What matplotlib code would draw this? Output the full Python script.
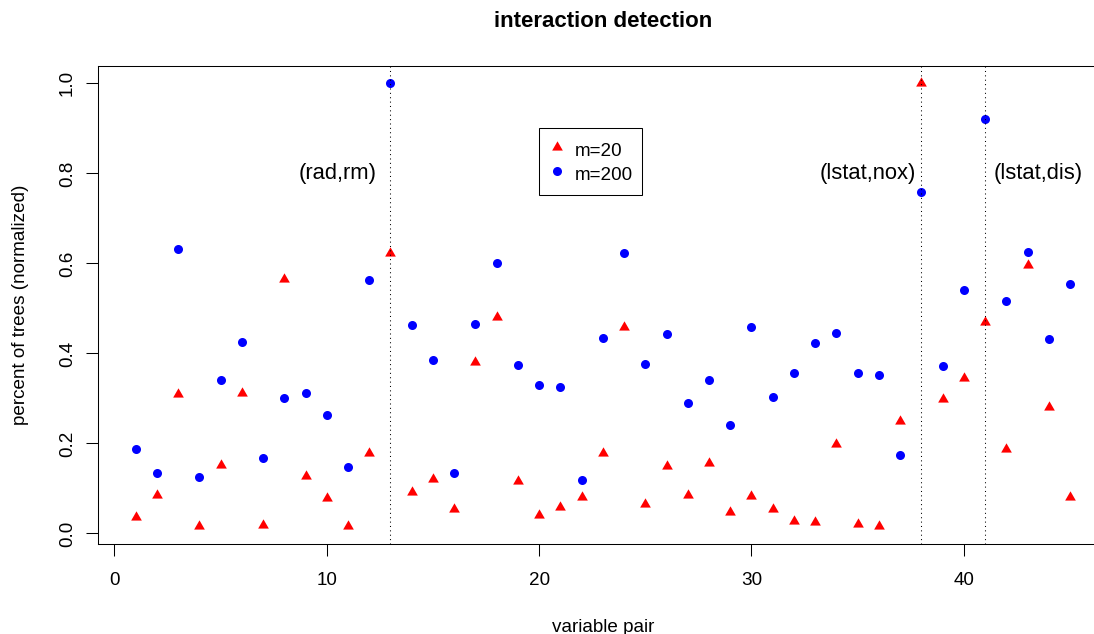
import matplotlib
matplotlib.use("Agg")
import matplotlib.pyplot as plt
from matplotlib.path import Path
import numpy as np

plt.rcParams['font.family'] = ['Liberation Sans', 'DejaVu Sans']

# ---- data ----
pair_index = list(range(1, 46))
m20 = [0.037, 0.086, 0.310, 0.016, 0.152, 0.313, 0.018, 0.566, 0.128, 0.078,
       0.016, 0.178, 0.624, 0.092, 0.120, 0.055, 0.382, 0.482, 0.117, 0.041,
       0.059, 0.080, 0.178, 0.459, 0.065, 0.149, 0.085, 0.157, 0.048, 0.083,
       0.055, 0.028, 0.025, 0.199, 0.021, 0.016, 0.250, 1.000, 0.299, 0.346,
       0.470, 0.187, 0.597, 0.282, 0.080]
m200 = [0.187, 0.134, 0.632, 0.125, 0.342, 0.426, 0.167, 0.302, 0.313, 0.264,
        0.148, 0.564, 1.000, 0.464, 0.386, 0.134, 0.466, 0.601, 0.375, 0.331,
        0.326, 0.118, 0.435, 0.623, 0.377, 0.444, 0.290, 0.342, 0.240, 0.459,
        0.304, 0.357, 0.424, 0.446, 0.357, 0.353, 0.174, 0.759, 0.373, 0.541,
        0.922, 0.517, 0.626, 0.433, 0.555]
series_labels = ["m=20", "m=200"]
highlight_pairs = [13, 38, 41]
annot_x = [10.5, 35.5, 43.5]
annot_y = [0.8, 0.8, 0.8]
annot_text = ["(rad,rm)", "(lstat,nox)", "(lstat,dis)"]
x_ticks = [0, 10, 20, 30, 40]
y_ticks = [0.0, 0.2, 0.4, 0.6, 0.8, 1.0]
y_ticklabels = ["0.0", "0.2", "0.4", "0.6", "0.8", "1.0"]

W, H = 1094, 634
fig = plt.figure(figsize=(W / 100, H / 100), dpi=100)
ax = fig.add_axes([98.3 / W, 90 / H, 1009.1 / W, 478.3 / H])

# R-like triangle (pch 17): point is the centroid
tri = Path([(0, 1), (-0.866, -0.5), (0.866, -0.5), (0, 1)],
           [Path.MOVETO, Path.LINETO, Path.LINETO, Path.CLOSEPOLY])

l1, = ax.plot(pair_index, m20, linestyle='none', marker=tri, markersize=8.9,
              color='#ff0000', markeredgewidth=0, label=series_labels[0])
l2, = ax.plot(pair_index, m200, linestyle='none', marker='o', markersize=6.5,
              color='#0000ff', markeredgewidth=0, label=series_labels[1])

for xv in highlight_pairs:
    ax.axvline(xv, color='black', linewidth=0.75, linestyle=(0, (1, 3.2)))

for xt, yt, s in zip(annot_x, annot_y, annot_text):
    ax.text(xt, yt, s, ha='center', va='center', fontsize=15.8)

# R-style 4% axis extension
xmin, xmax = min(pair_index), max(pair_index)
dx = (xmax - xmin) * 0.04
ax.set_xlim(xmin - dx, xmax + dx)
allv = m20 + m200
ymin, ymax = min(allv), max(allv)
dy = (ymax - ymin) * 0.04
ax.set_ylim(ymin - dy, ymax + dy)

ax.set_xticks(x_ticks)
ax.set_xticklabels([str(t) for t in x_ticks])
ax.set_yticks(y_ticks)
ax.set_yticklabels(y_ticklabels, rotation=90, va='center')

ax.tick_params(axis='both', direction='out', length=8.6, width=0.75,
               colors='black', labelsize=13.6)
ax.tick_params(axis='x', pad=11.5)
ax.tick_params(axis='y', pad=7.5)
for sp in ax.spines.values():
    sp.set_linewidth(0.75)
    sp.set_color('black')

ax.set_xlabel("variable pair", fontsize=13.6)
ax.xaxis.label.set_va('baseline')
ax.xaxis.set_label_coords(0.5, (544 - 632) / 478.3)
ax.set_ylabel("percent of trees (normalized)", fontsize=13.6)
ax.yaxis.label.set_va('center')
ax.yaxis.set_label_coords((21 - 98.3) / 1009.1, 0.5)

ax.set_title("interaction detection", fontsize=16, fontweight='bold',
             y=(544 - 26.7) / 478.3, pad=0, va='baseline')

leg = ax.legend(handles=[l1, l2], loc='upper left',
                bbox_to_anchor=(20.0, 0.9), bbox_transform=ax.transData,
                borderaxespad=0, fontsize=13.6, frameon=True, fancybox=False,
                edgecolor='black', framealpha=1, borderpad=0.5,
                handlelength=0.87, handleheight=1.56, handletextpad=0.5,
                labelspacing=0.0, numpoints=1)
leg.get_frame().set_linewidth(0.75)

fig.savefig("out.png", dpi=100)
